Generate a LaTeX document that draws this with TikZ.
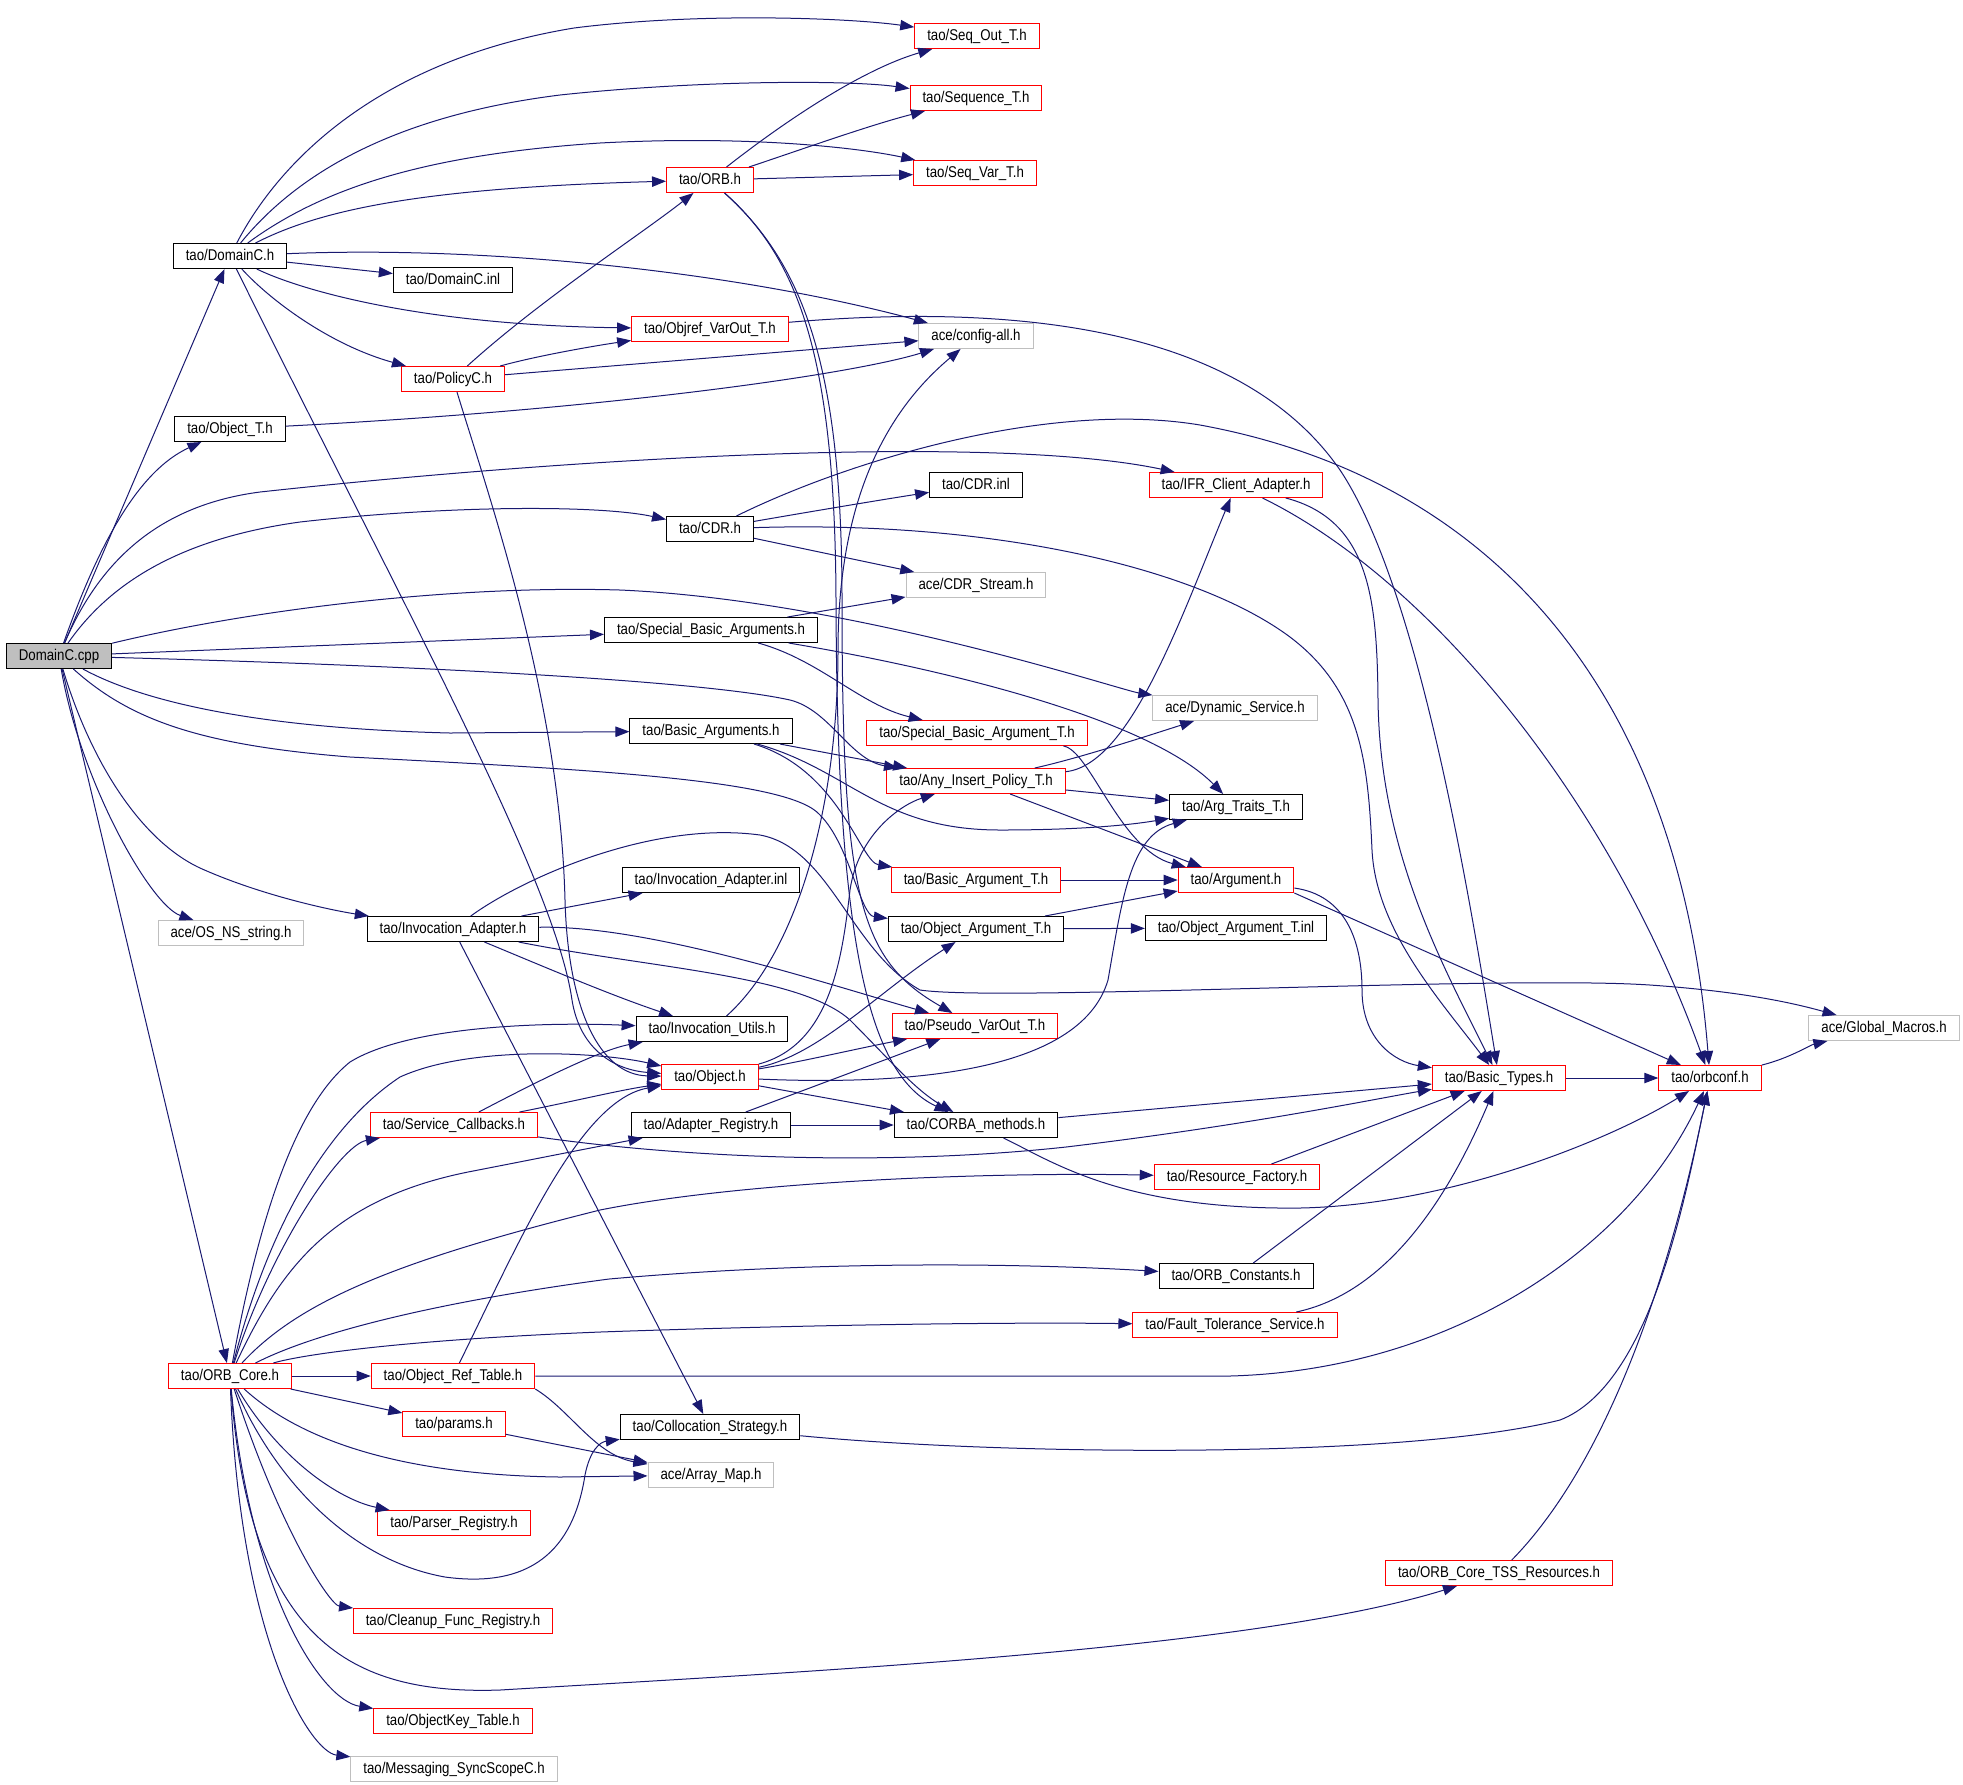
\documentclass[tikz,border=0pt]{standalone}
\usepackage{fontspec}
\usetikzlibrary{arrows.meta}
\newfontfamily\graphfont[FakeStretch=0.85]{Liberation Sans}
\definecolor{edgeblue}{HTML}{191970}
\definecolor{boxgray}{HTML}{BFBFBF}
\tikzset{
  fbox/.style={rectangle, line width=0.5pt, fill=white, font=\graphfont\fontsize{7.8}{9}\selectfont,
    inner xsep=6.25pt, inner ysep=0pt, minimum height=12.5pt, text height=5.8pt, text depth=1.6pt},
  blackbox/.style={fbox, draw=black},
  redbox/.style={fbox, draw=red},
  graybox/.style={fbox, draw=boxgray},
  rootbox/.style={fbox, draw=black, fill=boxgray},
  incl/.style={draw=edgeblue, line width=0.5pt, -{Triangle[length=7pt,width=5.2pt]}}
}
\begin{document}
\begin{tikzpicture}[x=0.5pt,y=-0.5pt]
    \useasboundingbox (0,0) rectangle (1963,1784);
    \node (cpp) at (59,656) [rootbox] {DomainC.cpp};
    \node (domainch) at (230,256) [blackbox] {tao/DomainC.h};
    \node (domaincinl) at (453,280) [blackbox] {tao/DomainC.inl};
    \node (objectt) at (230,429) [blackbox] {tao/Object\_T.h};
    \node (osns) at (231,933) [graybox] {ace/OS\_NS\_string.h};
    \node (orbcore) at (230,1376) [redbox] {tao/ORB\_Core.h};
    \node (seqout) at (977,36) [redbox] {tao/Seq\_Out\_T.h};
    \node (sequence) at (976,98) [redbox] {tao/Sequence\_T.h};
    \node (seqvar) at (975,173) [redbox] {tao/Seq\_Var\_T.h};
    \node (orb) at (710,180) [redbox] {tao/ORB.h};
    \node (objref) at (710,329) [redbox] {tao/Objref\_VarOut\_T.h};
    \node (configall) at (976,336) [graybox] {ace/config-all.h};
    \node (policyc) at (453,379) [redbox] {tao/PolicyC.h};
    \node (cdrh) at (710,529) [blackbox] {tao/CDR.h};
    \node (cdrinl) at (976,485) [blackbox] {tao/CDR.inl};
    \node (ifr) at (1236,485) [redbox] {tao/IFR\_Client\_Adapter.h};
    \node (cdrstream) at (976,585) [graybox] {ace/CDR\_Stream.h};
    \node (sbargs) at (711,630) [blackbox] {tao/Special\_Basic\_Arguments.h};
    \node (dynsvc) at (1235,708) [graybox] {ace/Dynamic\_Service.h};
    \node (sbargt) at (977,733) [redbox] {tao/Special\_Basic\_Argument\_T.h};
    \node (bargs) at (711,731) [blackbox] {tao/Basic\_Arguments.h};
    \node (anyins) at (976,781) [redbox] {tao/Any\_Insert\_Policy\_T.h};
    \node (argtraits) at (1236,807) [blackbox] {tao/Arg\_Traits\_T.h};
    \node (invadinl) at (711,880) [blackbox] {tao/Invocation\_Adapter.inl};
    \node (bargt) at (976,880) [redbox] {tao/Basic\_Argument\_T.h};
    \node (argument) at (1236,880) [redbox] {tao/Argument.h};
    \node (invad) at (453,929) [blackbox] {tao/Invocation\_Adapter.h};
    \node (objargt) at (976,929) [blackbox] {tao/Object\_Argument\_T.h};
    \node (objargtinl) at (1236,928) [blackbox] {tao/Object\_Argument\_T.inl};
    \node (globalmacros) at (1884,1028) [graybox] {ace/Global\_Macros.h};
    \node (invutils) at (712,1029) [blackbox] {tao/Invocation\_Utils.h};
    \node (pseudo) at (975,1026) [redbox] {tao/Pseudo\_VarOut\_T.h};
    \node (object) at (710,1077) [redbox] {tao/Object.h};
    \node (basictypes) at (1499,1078) [redbox] {tao/Basic\_Types.h};
    \node (orbconf) at (1710,1078) [redbox] {tao/orbconf.h};
    \node (svccb) at (454,1125) [redbox] {tao/Service\_Callbacks.h};
    \node (adapterreg) at (711,1125) [blackbox] {tao/Adapter\_Registry.h};
    \node (corba) at (976,1125) [blackbox] {tao/CORBA\_methods.h};
    \node (resfact) at (1237,1177) [redbox] {tao/Resource\_Factory.h};
    \node (orbconst) at (1236,1276) [blackbox] {tao/ORB\_Constants.h};
    \node (ftsvc) at (1235,1325) [redbox] {tao/Fault\_Tolerance\_Service.h};
    \node (objreftable) at (453,1376) [redbox] {tao/Object\_Ref\_Table.h};
    \node (params) at (454,1424) [redbox] {tao/params.h};
    \node (colloc) at (710,1427) [blackbox] {tao/Collocation\_Strategy.h};
    \node (arraymap) at (711,1475) [graybox] {ace/Array\_Map.h};
    \node (parser) at (454,1523) [redbox] {tao/Parser\_Registry.h};
    \node (tss) at (1499,1573) [redbox] {tao/ORB\_Core\_TSS\_Resources.h};
    \node (cleanup) at (453,1621) [redbox] {tao/Cleanup\_Func\_Registry.h};
    \node (objkey) at (453,1721) [redbox] {tao/ObjectKey\_Table.h};
    \node (msgsync) at (454,1769) [graybox] {tao/Messaging\_SyncScopeC.h};

    \draw[incl] (cpp) -- (domainch);
    \draw[incl] (cpp) .. controls (100,540) and (140,470) .. (objectt);
    \draw[incl] (cpp) .. controls (100,560) and (160,505) .. (260,492) .. controls (600,455) and (1000,435) .. (ifr);
    \draw[incl] (cpp) .. controls (105,590) and (170,540) .. (300,522) .. controls (450,505) and (600,505) .. (cdrh);
    \draw[incl] (cpp) .. controls (250,610) and (450,585) .. (620,590) .. controls (850,600) and (1120,690) .. (dynsvc);
    \draw[incl] (cpp) -- (sbargs);
    \draw[incl] (cpp) .. controls (400,665) and (700,680) .. (790,700) .. controls (830,710) and (850,760) .. (anyins);
    \draw[incl] (cpp) .. controls (140,700) and (250,728) .. (450,733) -- (bargs);
    \draw[incl] (cpp) .. controls (130,720) and (200,745) .. (350,757) .. controls (600,770) and (790,780) .. (820,815) .. controls (850,845) and (860,915) .. (objargt);
    \draw[incl] (cpp) .. controls (90,760) and (140,840) .. (200,868) .. controls (260,895) and (330,910) .. (invad);
    \draw[incl] (cpp) .. controls (80,780) and (150,905) .. (osns);
    \draw[incl] (cpp) -- (orbcore);

    \draw[incl] (domainch) .. controls (280,160) and (380,60) .. (574,28) .. controls (700,12) and (850,18) .. (seqout);
    \draw[incl] (domainch) .. controls (300,170) and (400,115) .. (560,95) .. controls (700,80) and (850,80) .. (sequence);
    \draw[incl] (domainch) .. controls (320,190) and (420,155) .. (600,143) .. controls (750,135) and (860,148) .. (seqvar);
    \draw[incl] (domainch) .. controls (320,210) and (420,188) .. (orb);
    \draw[incl] (domainch) .. controls (500,245) and (750,275) .. (configall);
    \draw[incl] (domainch) -- (domaincinl);
    \draw[incl] (domainch) .. controls (300,290) and (420,325) .. (objref);
    \draw[incl] (domainch) .. controls (270,300) and (330,345) .. (policyc);
    \draw[incl] (domainch) .. controls (400,600) and (555,880) .. (572,1000) .. controls (580,1050) and (615,1070) .. (object);

    \draw[incl] (policyc) .. controls (540,355) and (600,345) .. (objref);
    \draw[incl] (policyc) -- (configall);
    \draw[incl] (policyc) .. controls (540,300) and (640,235) .. (orb);
    \draw[incl] (policyc) .. controls (490,500) and (560,700) .. (565,900) .. controls (568,1010) and (600,1075) .. (object);
    \draw[incl] (objectt) .. controls (600,410) and (850,375) .. (configall);

    \draw[incl] (orb) .. controls (780,125) and (860,70) .. (seqout);
    \draw[incl] (orb) .. controls (800,150) and (870,125) .. (sequence);
    \draw[incl] (orb) -- (seqvar);
    \draw[incl] (orb) .. controls (800,260) and (835,360) .. (836,600) .. controls (837,950) and (870,1075) .. (corba);
    \draw[incl] (orb) .. controls (805,265) and (842,370) .. (842,600) .. controls (842,900) and (860,960) .. (pseudo);
    \draw[incl] (objref) .. controls (1050,300) and (1250,340) .. (1340,470) .. controls (1420,590) and (1470,900) .. (basictypes);

    \draw[incl] (cdrh) .. controls (820,510) and (880,500) .. (cdrinl);
    \draw[incl] (cdrh) -- (cdrstream);
    \draw[incl] (cdrh) .. controls (1000,520) and (1200,570) .. (1290,637) .. controls (1360,690) and (1368,760) .. (1372,850) .. controls (1376,930) and (1440,1000) .. (basictypes);
    \draw[incl] (cdrh) .. controls (850,460) and (1050,400) .. (1200,425) .. controls (1500,480) and (1680,700) .. (orbconf);
    \draw[incl] (ifr) .. controls (1370,520) and (1377,600) .. (1378,700) .. controls (1380,850) and (1440,960) .. (basictypes);
    \draw[incl] (ifr) .. controls (1430,580) and (1610,800) .. (orbconf);

    \draw[incl] (sbargs) -- (cdrstream);
    \draw[incl] (sbargs) .. controls (820,660) and (860,705) .. (sbargt);
    \draw[incl] (sbargs) .. controls (950,670) and (1150,720) .. (argtraits);
    \draw[incl] (sbargt) .. controls (1090,750) and (1120,850) .. (argument);
    \draw[incl] (bargs) -- (anyins);
    \draw[incl] (bargs) .. controls (850,770) and (880,830) .. (1000,830) .. controls (1080,830) and (1130,825) .. (argtraits);
    \draw[incl] (bargs) .. controls (840,770) and (860,862) .. (bargt);
    \draw[incl] (anyins) .. controls (1130,765) and (1180,620) .. (ifr);
    \draw[incl] (anyins) .. controls (1080,758) and (1150,735) .. (dynsvc);
    \draw[incl] (anyins) -- (argtraits);
    \draw[incl] (anyins) -- (argument);
    \draw[incl] (bargt) -- (argument);
    \draw[incl] (objargt) -- (argument);
    \draw[incl] (objargt) -- (objargtinl);
    \draw[incl] (argument) .. controls (1345,895) and (1362,940) .. (1362,990) .. controls (1362,1040) and (1395,1062) .. (basictypes);
    \draw[incl] (argument.south east) -- (orbconf);

    \draw[incl] (invad) -- (invadinl);
    \draw[incl] (invad) .. controls (540,965) and (610,995) .. (invutils);
    \draw[incl] (invad) .. controls (520,880) and (650,820) .. (760,835) .. controls (830,848) and (850,950) .. (920,990) .. controls (1000,1002) and (1500,975) .. (1650,985) .. controls (1750,992) and (1800,1005) .. (globalmacros);
    \draw[incl] (invad) .. controls (650,925) and (830,985) .. (pseudo);
    \draw[incl] (invad) .. controls (650,968) and (800,975) .. (850,1020) .. controls (890,1060) and (915,1090) .. (corba);
    \draw[incl] (invad) -- (colloc);
    \draw[incl] (invutils) .. controls (800,950) and (838,800) .. (838,650) .. controls (838,480) and (900,400) .. (configall);

    \draw[incl] (object) .. controls (830,1045) and (842,960) .. (850,890) .. controls (858,835) and (900,805) .. (anyins);
    \draw[incl] (object) .. controls (820,1055) and (880,990) .. (objargt);
    \draw[incl] (object) .. controls (800,1062) and (860,1048) .. (pseudo);
    \draw[incl] (object) .. controls (900,1085) and (1080,1075) .. (1108,980) .. controls (1122,900) and (1130,835) .. (argtraits);
    \draw[incl] (object) -- (corba);

    \draw[incl] (svccb) .. controls (540,1080) and (600,1050) .. (invutils);
    \draw[incl] (svccb) .. controls (580,1100) and (620,1090) .. (object);
    \draw[incl] (svccb) .. controls (700,1160) and (900,1165) .. (1066,1147) .. controls (1250,1125) and (1380,1098) .. (basictypes);
    \draw[incl] (adapterreg) -- (corba);
    \draw[incl] (adapterreg) -- (pseudo);
    \draw[incl] (corba) -- (basictypes);
    \draw[incl] (corba) .. controls (1050,1160) and (1120,1210) .. (1300,1208) .. controls (1450,1205) and (1610,1140) .. (orbconf);
    \draw[incl] (resfact) -- (basictypes);
    \draw[incl] (orbconst) -- (basictypes);
    \draw[incl] (ftsvc) .. controls (1400,1290) and (1460,1170) .. (basictypes);
    \draw[incl] (basictypes) -- (orbconf);
    \draw[incl] (orbconf) .. controls (1790,1058) and (1810,1045) .. (globalmacros);
    \draw[incl] (tss) .. controls (1600,1470) and (1665,1300) .. (orbconf);
    \draw[incl] (colloc) .. controls (1000,1455) and (1400,1460) .. (1560,1420) .. controls (1650,1385) and (1685,1200) .. (orbconf);
    \draw[incl] (objreftable) -- (1230,1376) .. controls (1450,1370) and (1630,1250) .. (orbconf);
    \draw[incl] (objreftable) .. controls (520,1240) and (580,1100) .. (object);
    \draw[incl] (objreftable.south east) .. controls (570,1410) and (595,1455) .. (arraymap);
    \draw[incl] (params) -- (arraymap);

    \draw[incl] (orbcore) .. controls (255,1240) and (290,1110) .. (350,1062) .. controls (410,1025) and (550,1022) .. (invutils);
    \draw[incl] (orbcore) .. controls (265,1240) and (320,1130) .. (400,1077) .. controls (470,1045) and (600,1052) .. (object);
    \draw[incl] (orbcore) .. controls (270,1250) and (340,1145) .. (svccb);
    \draw[incl] (orbcore) .. controls (280,1270) and (330,1200) .. (468,1172) .. controls (540,1158) and (590,1148) .. (adapterreg);
    \draw[incl] (orbcore) .. controls (300,1300) and (400,1260) .. (600,1210) .. controls (750,1180) and (1000,1172) .. (resfact);
    \draw[incl] (orbcore) .. controls (320,1330) and (450,1300) .. (609,1279) .. controls (800,1262) and (1000,1262) .. (orbconst);
    \draw[incl] (orbcore) .. controls (300,1355) and (400,1340) .. (600,1332) .. controls (800,1325) and (1000,1322) .. (ftsvc);
    \draw[incl] (orbcore) -- (objreftable);
    \draw[incl] (orbcore) -- (params);
    \draw[incl] (orbcore) .. controls (300,1440) and (400,1475) .. (560,1477) -- (arraymap);
    \draw[incl] (orbcore) .. controls (280,1460) and (340,1500) .. (parser);
    \draw[incl] (orbcore) .. controls (275,1480) and (350,1560) .. (445,1577) .. controls (540,1590) and (575,1540) .. (585,1475) .. controls (590,1450) and (600,1442) .. (colloc);
    \draw[incl] (orbcore) .. controls (280,1530) and (330,1605) .. (cleanup);
    \draw[incl] (orbcore) .. controls (250,1590) and (320,1700) .. (objkey);
    \draw[incl] (orbcore) .. controls (240,1640) and (310,1752) .. (msgsync);
    \draw[incl] (orbcore) .. controls (250,1640) and (350,1695) .. (500,1690) .. controls (800,1672) and (1250,1650) .. (tss);
\end{tikzpicture}
\end{document}
